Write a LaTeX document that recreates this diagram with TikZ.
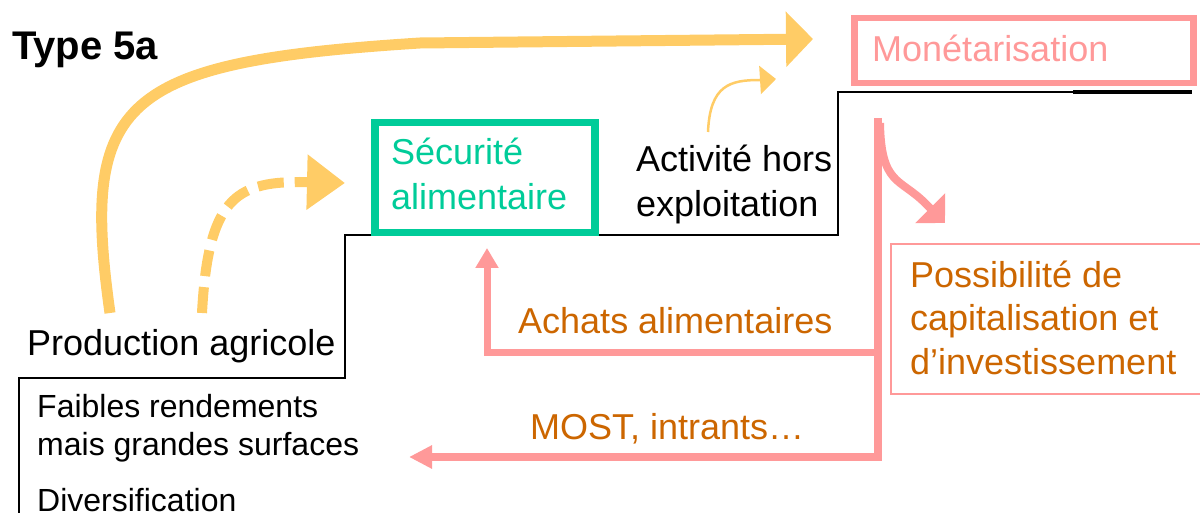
\documentclass[tikz,border=0pt]{standalone}
\usepackage{fontspec}
\setmainfont{Liberation Sans}
\usetikzlibrary{arrows.meta}
\definecolor{salmon}{RGB}{255,153,153}
\definecolor{gold}{RGB}{255,204,102}
\definecolor{jade}{RGB}{0,204,153}
\definecolor{rust}{RGB}{204,102,0}

\begin{document}
\begin{tikzpicture}[x=1pt,y=-1pt,
  txt/.style={inner sep=0pt, anchor=base west, align=left,
    font=\fontsize{36}{45}\selectfont},
  smalltxt/.style={txt, font=\fontsize{32}{38}\selectfont},
  outline/.style={draw=black, line width=1.5pt},
  framebox/.style={inner sep=0pt, anchor=north west},
  goldflow/.style={draw=gold, line width=11pt},
  salmonflow/.style={draw=salmon, line width=8pt},
]
\useasboundingbox (0,0) rectangle (1200,513);
\clip (0,0) rectangle (1200,513);

% staircase outline
\draw[outline] (19,520) -- (19,378) -- (345,378) -- (345,235)
  -- (838,235) -- (838,92) -- (1192,92);
\draw[line width=3.5pt] (1073,92) -- (1192,92);

% framed boxes
\node[framebox, draw=salmon, line width=6.5pt,
  minimum width=339pt, minimum height=65pt] (monbox) at (851,15) {};
\node[framebox, draw=jade, line width=7.5pt,
  minimum width=220pt, minimum height=110pt] (secubox) at (371,119) {};
\node[framebox, draw=salmon, line width=2pt,
  minimum width=330pt, minimum height=150pt] (capbox) at (890,243) {};

% texts (multi-line nodes are placed by the baseline of their last line)
\node[inner sep=0pt, anchor=base west,
  font=\fontsize{40}{48}\selectfont\bfseries] (title) at (12,60) {Type 5a};
\node[txt, text=salmon] (mon) at (872,62) {Monétarisation};
\node[txt, text=jade] (secu) at (391,210) {Sécurité\\alimentaire};
\node[txt] (hors) at (636,217) {Activité hors\\exploitation};
\node[txt] (prod) at (27,355) {Production agricole};
\node[smalltxt] (faibles) at (37,455) {Faibles rendements\\mais grandes surfaces};
\node[smalltxt] (divers) at (37,511) {Diversification};
\node[txt, text=rust, font=\fontsize{36}{43.5}\selectfont] (cap) at (910,374)
  {Possibilité de\\capitalisation et\\d’investissement};
\node[txt, text=rust] (achats) at (518,334) {Achats alimentaires};
\node[txt, text=rust] (most) at (530,439) {MOST, intrants…};

% arrow end points
\coordinate (bigstart) at (110,313);
\coordinate (bigtip) at (813,39);
\coordinate (dashstart) at (202,313);
\coordinate (dashtip) at (345,183);
\coordinate (thinstart) at (708,132);
\coordinate (thintip) at (776,79);
\coordinate (trunktop) at (878,118);
\coordinate (trunkfoot) at (878,457);
\coordinate (trunkbranch) at (878,352);
\coordinate (intrantstip) at (409,457);
\coordinate (achatstip) at (487,248);
\coordinate (captip) at (945,223);

% yellow flows
\draw[goldflow, -{Triangle[length=27pt,width=54pt]}]
  (bigstart) .. controls (80,100) and (120,62) .. (420,43) -- (bigtip);
\draw[goldflow, line width=10pt, dash pattern=on 26pt off 11pt,
  -{Triangle[length=38pt,width=53pt]}]
  (dashstart) .. controls (208,200) and (235,182) .. (300,182) -- (dashtip);
\draw[goldflow, line width=2.5pt, -{Triangle[length=16pt,width=28pt]}]
  (thinstart) .. controls (710,85) and (730,80) .. (760,80) -- (thintip);

% salmon flows
\draw[salmonflow, -{Triangle[length=23pt,width=22pt]}]
  (trunktop) -- (trunkfoot) -- (intrantstip);
\draw[salmonflow, line width=7pt, -{Triangle[length=20pt,width=22pt]}]
  (trunkbranch) -- (achatstip |- trunkbranch) -- (achatstip);
\draw[salmonflow, -{Triangle[length=21pt,width=41pt]}]
  (880,123) .. controls (881,185) and (900,178) .. (925,203) -- (captip);
\end{tikzpicture}
\end{document}
